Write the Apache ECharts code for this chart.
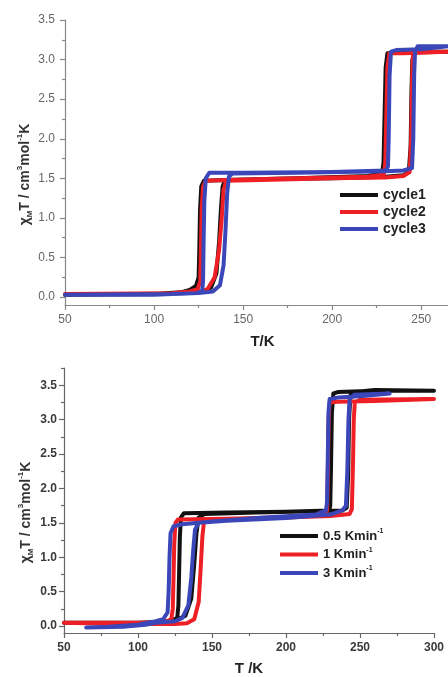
<!DOCTYPE html>
<html>
<head>
<meta charset="utf-8">
<script src="https://cdn.jsdelivr.net/npm/echarts@6/dist/echarts.min.js"></script>
<style>
html,body{margin:0;padding:0;background:#fff;}
#c{width:448px;height:677px;}
</style>
</head>
<body>
<div id="c"></div>
<script>
// ---------- Data (T in K, chiMT in cm3 mol-1 K), heating then cooling ----------
const topNames = ['cycle1', 'cycle2', 'cycle3'];
const bottomNames = ['0.5 Kmin', '1 Kmin', '3 Kmin'];

const cycle1 = [
  [50,0.03],[90,0.04],[120,0.05],[128,0.07],[132,0.12],[135,0.3],[136.5,0.7],[137.5,1.1],[138.5,1.4],[140,1.48],
  [160,1.49],[200,1.5],[230,1.52],[240,1.54],[243,1.58],[244,1.9],[244.5,2.6],[245,3.0],[246.5,3.1],[265,3.1],
  [265,3.08],[240,3.09],[231,3.08],[230,2.9],[229.3,2.2],[228.8,1.7],[228,1.56],[220,1.53],[180,1.5],[140,1.48],
  [128,1.47],[126.5,1.4],[125.8,1.1],[125.4,0.6],[125,0.25],[123.5,0.14],[120,0.09],[115,0.06],[100,0.04],[50,0.03]
];
const cycle2 = [
  [50,0.04],[90,0.04],[115,0.05],[125,0.06],[130,0.1],[134,0.25],[136.5,0.6],[138,1.0],[139,1.35],[140.5,1.47],
  [160,1.48],[200,1.5],[230,1.51],[240,1.53],[243.5,1.58],[244.3,2.0],[244.8,2.7],[245.3,3.05],[247,3.1],[265,3.1],
  [265,3.09],[240,3.08],[232,3.08],[231,2.9],[230.3,2.2],[229.8,1.7],[229,1.55],[220,1.52],[180,1.5],[140,1.48],
  [129,1.47],[127.5,1.4],[126.7,1.1],[126.3,0.6],[125.9,0.2],[124.5,0.1],[120,0.07],[110,0.05],[50,0.04]
];
const cycle3 = [
  [50,0.03],[110,0.04],[125,0.05],[133,0.07],[137,0.15],[139,0.4],[140,0.8],[141,1.3],[142,1.52],[144,1.56],
  [180,1.57],[230,1.59],[240,1.6],[244.8,1.63],[245.5,2.0],[246,2.8],[246.5,3.1],[248,3.17],[265,3.17],
  [265,3.16],[250,3.13],[236,3.12],[233,3.1],[232.2,2.8],[231.7,2.0],[231.3,1.65],[230,1.6],[200,1.58],[150,1.57],
  [131,1.57],[129,1.5],[128.2,1.2],[127.8,0.7],[127.5,0.2],[127,0.08],[124,0.05],[100,0.03],[50,0.03]
];

const rate05 = [
  [50,0.05],[100,0.05],[115,0.06],[125,0.08],[132,0.15],[136,0.4],[138,0.9],[139.5,1.35],[141,1.58],[145,1.63],
  [180,1.65],[220,1.67],[238,1.68],[241,1.72],[242,2.2],[242.6,3.0],[243.5,3.35],[246,3.4],[260,3.43],[300,3.42],
  [300,3.41],[260,3.42],[235,3.4],[232,3.38],[231,3.1],[230.4,2.3],[229.9,1.75],[229,1.68],[200,1.66],[160,1.65],
  [131,1.64],[129,1.58],[128.3,1.3],[127.8,0.8],[127.3,0.3],[126.5,0.12],[122,0.07],[110,0.05],[50,0.05]
];
const rate1 = [
  [50,0.05],[65,0.04],[100,0.03],[125,0.03],[133,0.04],[138,0.1],[141,0.35],[142.5,0.9],[143.5,1.3],[144.5,1.5],
  [148,1.55],[190,1.57],[230,1.6],[243,1.63],[244.5,1.7],[245.3,2.4],[245.8,3.0],[246.5,3.25],[250,3.29],[300,3.3],
  [300,3.28],[260,3.27],[235,3.26],[229.5,3.25],[228.8,3.0],[228.3,2.3],[227.8,1.7],[227,1.6],[200,1.58],[160,1.56],
  [127,1.55],[125.3,1.5],[124.5,1.2],[124,0.7],[123.5,0.25],[122.5,0.1],[118,0.06],[100,0.05],[65,0.05],[50,0.05]
];
const rate3 = [
  [65,-0.02],[90,-0.01],[105,0.02],[112,0.05],[125,0.07],[130,0.12],[134,0.3],[136,0.7],[137.3,1.1],[138.5,1.4],[141,1.5],
  [160,1.53],[200,1.57],[230,1.62],[238,1.68],[240.5,1.75],[241.5,2.3],[242.2,3.0],[243,3.3],[246,3.36],[270,3.38],
  [270,3.36],[250,3.34],[235,3.32],[229.5,3.3],[228.7,3.1],[228.2,2.4],[227.7,1.8],[227,1.68],[220,1.62],[180,1.57],
  [150,1.52],[130,1.48],[124,1.45],[122,1.35],[121.3,1.0],[120.7,0.5],[120,0.2],[117,0.1],[112,0.07],[100,0.02],
  [80,-0.01],[65,-0.02]
];

// ---------- Tick values ----------
const topXMajor = [50,100,150,200,250];
const topXMinor = [75,125,175,225];
const botXMajor = [50,100,150,200,250,300];
const botXMinor = [75,125,175,225,275];
const yMajor = [0,0.5,1,1.5,2,2.5,3,3.5];
const yMinorTop = [0.25,0.75,1.25,1.75,2.25,2.75,3.25];
const yMinorBot = [0.25,0.75,1.25,1.75,2.25,2.75,3.25,3.75];

const colors = ['#111111', '#ee2026', '#3b47b8'];
const FONT = 'Liberation Sans, Arial, sans-serif';

function yName(color){
  return {
    fontFamily: FONT,
    padding: [0, 24, 0, 0],
    rich: {
      a: {fontSize: 14, fontWeight: 'bold', color: color, fontFamily: FONT, lineHeight: 18},
      sub: {fontSize: 8, fontWeight: 'bold', color: color, fontFamily: FONT, lineHeight: 10, verticalAlign: 'bottom'},
      sup: {fontSize: 8, fontWeight: 'bold', color: color, fontFamily: FONT, lineHeight: 10, verticalAlign: 'top'}
    }
  };
}
const yNameText = '{a|χ}{sub|M}{a|T / cm}{sup|3}{a|mol}{sup|-1}{a|K}';

function mainX(grid, min, max, major, axisColor, labelStyle, name, gap, namePad){
  return {
    type: 'value', gridIndex: grid, min: min, max: max, position: 'bottom',
    name: name, nameLocation: 'middle', nameGap: gap, nameMoveOverlap: false,
    nameTextStyle: {fontFamily: FONT, fontSize: 15, fontWeight: 'bold', color: '#222', padding: namePad},
    axisLine: {show: true, onZero: false, lineStyle: {color: axisColor, width: 1.2}},
    axisTick: {show: true, inside: false, length: 5, customValues: major, lineStyle: {color: axisColor, width: 1.2}},
    axisLabel: Object.assign({customValues: major, margin: 9, fontFamily: FONT}, labelStyle),
    splitLine: {show: false}
  };
}
function minorX(grid, min, max, minor, axisColor){
  return {
    type: 'value', gridIndex: grid, min: min, max: max, position: 'bottom',
    axisLine: {show: false, onZero: false},
    axisTick: {show: true, inside: false, length: 3, customValues: minor, lineStyle: {color: axisColor, width: 1.2}},
    axisLabel: {show: false}, splitLine: {show: false}
  };
}
function mainY(grid, min, max, axisColor, labelStyle, nameColor, gap, margin){
  return {
    type: 'value', gridIndex: grid, min: min, max: max, position: 'left',
    name: yNameText, nameLocation: 'middle', nameGap: gap, nameMoveOverlap: false, nameTextStyle: yName(nameColor),
    axisLine: {show: true, onZero: false, lineStyle: {color: axisColor, width: 1.2}},
    axisTick: {show: true, inside: false, length: 5, customValues: yMajor, lineStyle: {color: axisColor, width: 1.2}},
    axisLabel: Object.assign({customValues: yMajor, margin: margin, fontFamily: FONT, formatter: v => v.toFixed(1)}, labelStyle),
    splitLine: {show: false}
  };
}
function minorY(grid, min, max, minor, axisColor){
  return {
    type: 'value', gridIndex: grid, min: min, max: max, position: 'left',
    axisLine: {show: false, onZero: false},
    axisTick: {show: true, inside: false, length: 3, customValues: minor, lineStyle: {color: axisColor, width: 1.2}},
    axisLabel: {show: false}, splitLine: {show: false}
  };
}

const topLabel = {fontSize: 12, color: '#666'};
const botLabel = {fontSize: 12, color: '#3a3a3a', fontWeight: 'bold'};

function lineSeries(name, data, color, xi, yi){
  return {
    type: 'line', name: name, data: data, xAxisIndex: xi, yAxisIndex: yi,
    symbol: 'none', smooth: false, animation: false,
    lineStyle: {color: color, width: 4, join: 'round', cap: 'round'},
    itemStyle: {color: color}
  };
}

const botDisplay = bottomNames.map(n => n + '⁻¹');

const option = {
  animation: false,
  backgroundColor: '#fff',
  grid: [
    {left: 65, top: 20, width: 383, height: 285, containLabel: false},
    {left: 64, top: 368, width: 370, height: 267, containLabel: false}
  ],
  xAxis: [
    mainX(0, 50, 265, topXMajor, '#888', topLabel, 'T/K', 29, [0,0,0,12]),
    minorX(0, 50, 265, topXMinor, '#888'),
    mainX(1, 50, 300, botXMajor, '#666', botLabel, 'T /K', 28, [0,0,0,0]),
    minorX(1, 50, 300, botXMinor, '#666')
  ],
  yAxis: [
    mainY(0, -0.1, 3.5, '#888', topLabel, '#333', 31, 10),
    minorY(0, -0.1, 3.5, yMinorTop, '#888'),
    mainY(1, -0.1, 3.75, '#666', botLabel, '#333', 29, 7),
    minorY(1, -0.1, 3.75, yMinorBot, '#666')
  ],
  legend: [
    {
      data: topNames.map(n => ({name: n, icon: 'rect'})), orient: 'vertical', left: 335, top: 183,
      itemWidth: 38, itemHeight: 4, itemGap: 3,
      textStyle: {fontFamily: FONT, fontSize: 14, lineHeight: 14, fontWeight: 'bold', color: '#222'},
      selectedMode: false
    },
    {
      data: botDisplay.map(n => ({name: n, icon: 'rect'})), orient: 'vertical', left: 275, top: 523,
      itemWidth: 38, itemHeight: 4, itemGap: 2.5,
      formatter: n => '{a|' + n.replace('⁻¹', '') + '}{s|-1}',
      textStyle: {fontFamily: FONT, color: '#222', lineHeight: 16,
        rich: {
          a: {fontFamily: FONT, fontSize: 13, fontWeight: 'bold', color: '#222', lineHeight: 16},
          s: {fontFamily: FONT, fontSize: 7, fontWeight: 'bold', color: '#222', lineHeight: 8, verticalAlign: 'top'}
        }},
      selectedMode: false
    }
  ],
  series: [
    lineSeries(topNames[0], cycle1, colors[0], 0, 0),
    lineSeries(topNames[1], cycle2, colors[1], 0, 0),
    lineSeries(topNames[2], cycle3, colors[2], 0, 0),
    lineSeries(botDisplay[0], rate05, colors[0], 2, 2),
    lineSeries(botDisplay[1], rate1, colors[1], 2, 2),
    lineSeries(botDisplay[2], rate3, colors[2], 2, 2)
  ]
};

const chart = echarts.init(document.getElementById('c'), null, {renderer: 'canvas', width: 448, height: 677});
chart.setOption(option);
</script>
</body>
</html>
